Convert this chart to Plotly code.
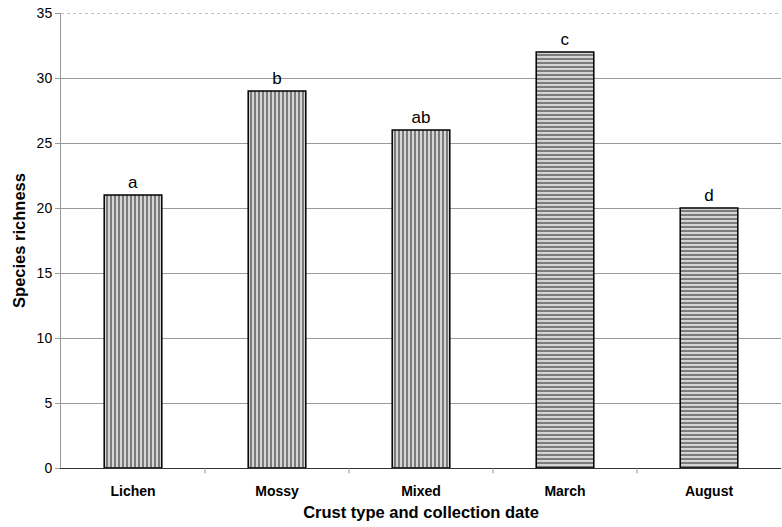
import plotly.graph_objects as go

categories = ["Lichen", "Mossy", "Mixed", "March", "August"]
richness = [21, 29, 26, 32, 20]
letters = ["a", "b", "ab", "c", "d"]
patterns = ["|", "|", "|", "-", "-"]
y_ticks = [0, 5, 10, 15, 20, 25, 30, 35]

font_family = "Liberation Sans, Arial, sans-serif"

fig = go.Figure()
fig.add_trace(go.Bar(
    x=categories,
    y=richness,
    width=0.4,
    text=letters,
    textposition="outside",
    textfont=dict(family=font_family, size=17, color="black"),
    cliponaxis=False,
    marker=dict(
        color="white",
        line=dict(color="black", width=1.5),
        pattern=dict(shape=patterns, fgcolor="#111", bgcolor="#d4d4d4",
                     size=4, solidity=0.45),
    ),
))

fig.update_layout(
    width=782, height=527,
    margin=dict(l=61, r=1, t=13, b=59),
    paper_bgcolor="white",
    plot_bgcolor="white",
    showlegend=False,
    bargap=0.6,
    font=dict(family=font_family, color="black"),
)

fig.update_xaxes(
    showline=True, linecolor="#333", linewidth=1,
    ticks="", tickfont=dict(size=14, family=font_family),
    ticklabelstandoff=10,
    title=dict(text="<b>Crust type and collection date</b>", font=dict(size=16.5), standoff=8),
    tickprefix="<b>", ticksuffix="</b>",
    showgrid=False,
)

fig.update_yaxes(
    range=[0, 35], tickvals=y_ticks,
    showline=True, linecolor="#999", linewidth=1,
    showgrid=True, gridcolor="#999", gridwidth=1,
    ticks="outside", ticklen=5, tickcolor="#999",
    tickfont=dict(size=14, family=font_family),
    tickprefix="<b>", ticksuffix="</b>",
    title=dict(text="<b>Species richness</b>", font=dict(size=16.5), standoff=6),
    zeroline=False,
)

# category separator ticks below the baseline
for i in range(1, len(categories)):
    fig.add_shape(type="line", xref="x", yref="paper",
                  x0=i - 0.5, x1=i - 0.5, y0=0, y1=-0.012,
                  line=dict(color="#999", width=1))

# dotted border at the top of the plot area
fig.add_shape(type="line", xref="paper", yref="y", x0=0, x1=1, y0=35, y1=35,
              line=dict(color="#888", width=1, dash="dot"))

fig.write_html("out.html")
